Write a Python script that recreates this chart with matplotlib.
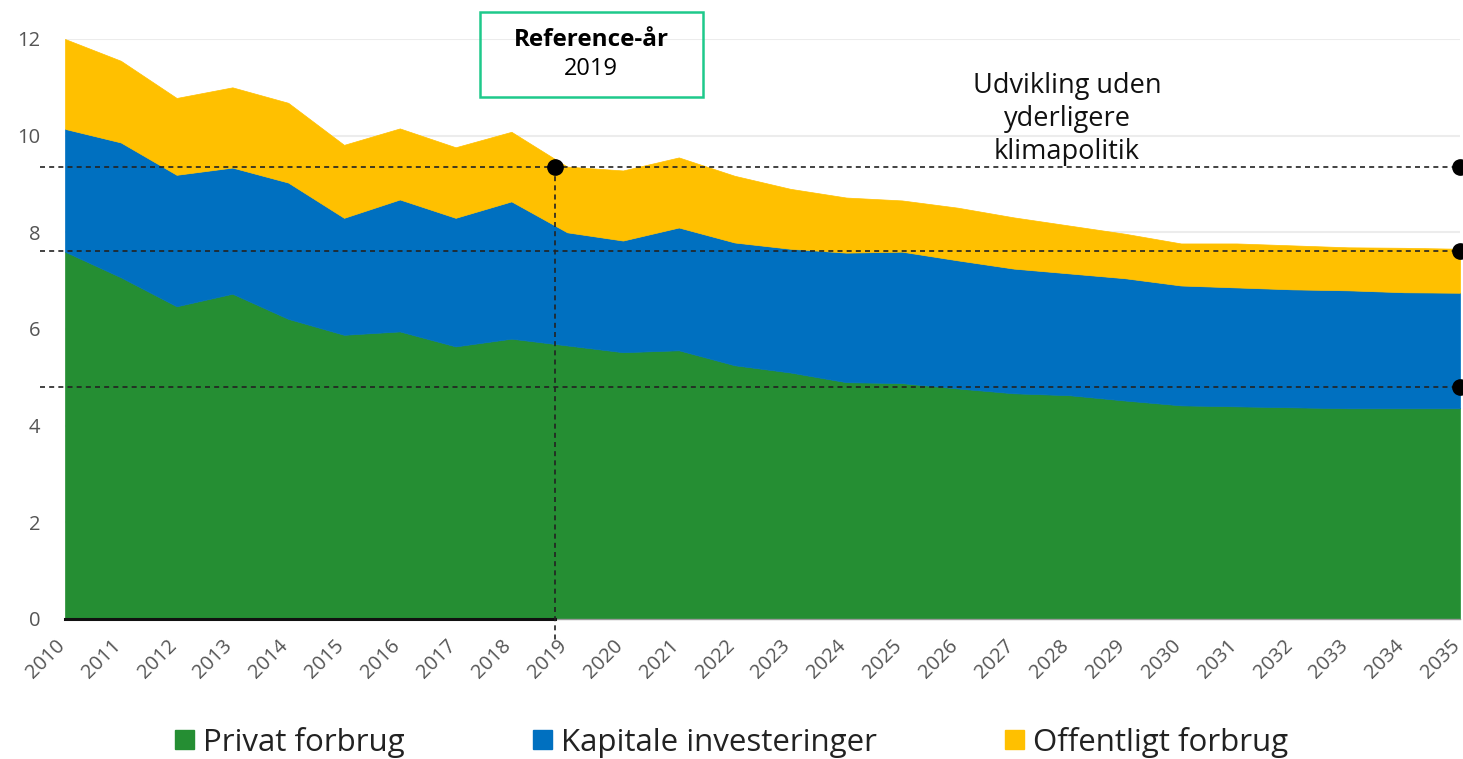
import matplotlib.pyplot as plt
from matplotlib.patches import Patch, Rectangle
from matplotlib.transforms import ScaledTranslation

plt.rcParams['font.family'] = ['Open Sans', 'DejaVu Sans']

# data
aar = list(range(2010, 2036))
privat_forbrug = [7.60, 7.07, 6.47, 6.73, 6.21, 5.88, 5.95, 5.64, 5.80, 5.66,
                  5.52, 5.56, 5.25, 5.10, 4.90, 4.88, 4.77, 4.67, 4.63, 4.52,
                  4.42, 4.40, 4.38, 4.36, 4.36, 4.36]
kapitale_inv = [2.54, 2.79, 2.72, 2.61, 2.82, 2.42, 2.73, 2.66, 2.84, 2.34,
                2.31, 2.54, 2.54, 2.56, 2.68, 2.72, 2.65, 2.58, 2.52, 2.53,
                2.48, 2.46, 2.44, 2.44, 2.40, 2.39]
offentligt_forbrug = [1.86, 1.69, 1.59, 1.66, 1.65, 1.51, 1.47, 1.46, 1.44, 1.36,
                      1.45, 1.45, 1.38, 1.24, 1.14, 1.06, 1.09, 1.06, 0.99, 0.92,
                      0.87, 0.91, 0.91, 0.89, 0.92, 0.91]
serie_navne = ['Privat forbrug', 'Kapitale investeringer', 'Offentligt forbrug']
farver = ['#258e33', '#0070c0', '#ffc000']

# referencelinjer
ref_x = 2018.78
niveauer = [9.36, 7.62, 4.81]

fig = plt.figure(figsize=(14.63, 7.59), dpi=100)
ax = fig.add_axes([65 / 1463, 1 - 619 / 759, 1395 / 1463, 580 / 759])

polys = ax.stackplot(aar, privat_forbrug, kapitale_inv, offentligt_forbrug,
                     colors=farver, zorder=2)
for p, c in zip(polys, farver):
    p.set_edgecolor(c)
    p.set_linewidth(0.5)

ax.set_xlim(2010, 2035)
ax.set_ylim(0, 12)
ax.set_yticks(range(0, 13, 2))
ax.set_xticks(aar)
ax.grid(axis='y', color='#ececec', lw=1.5, zorder=0)
ax.set_axisbelow(True)
for s in ['left', 'right', 'top']:
    ax.spines[s].set_visible(False)
ax.spines['bottom'].set_color('#9a9a9a')
ax.spines['bottom'].set_linewidth(1)
ax.tick_params(axis='both', length=0, colors='#555555', labelsize=14.5)
ax.tick_params(axis='y', pad=18)
ax.tick_params(axis='x', pad=17)
skub = ScaledTranslation(-3 / 100, 0, fig.dpi_scale_trans)
for lbl in ax.get_xticklabels():
    lbl.set_rotation(45)
    lbl.set_ha('right')
    lbl.set_va('center')
    lbl.set_rotation_mode('anchor')
    lbl.set_transform(lbl.get_transform() + skub)

# sort linje langs aksen frem til referenceåret
ax.plot([2010, ref_x], [0, 0], color='#111111', lw=2.2, zorder=4, clip_on=False)

# stiplede niveaulinjer og punkter
for n in niveauer:
    ax.plot([2009.55, 2035], [n, n], ls=(0, (3, 2.5)), color='#222222', lw=1.2,
            zorder=5, clip_on=False)
    ax.plot(2035, n, 'o', color='black', ms=11, zorder=6, clip_on=False)
ax.plot([ref_x, ref_x], [niveauer[0], -0.45], ls=(0, (3, 2.5)), color='#222222',
        lw=1.2, zorder=5, clip_on=False)
ax.plot(ref_x, niveauer[0], 'o', color='black', ms=11, zorder=6, clip_on=False)

# boks med referenceår
fig.patches.append(Rectangle((480 / 1463, 1 - 97 / 759), 223 / 1463, 85 / 759,
                             fill=False, edgecolor='#1ec98b', lw=1.8,
                             transform=fig.transFigure))
fig.text(591 / 1463, 1 - 40 / 759, 'Reference-år', ha='center', va='center',
         fontsize=17.5, fontweight='bold', color='black')
fig.text(591 / 1463, 1 - 69 / 759, '2019', ha='center', va='center',
         fontsize=17, color='black')

fig.text(1067 / 1463, 1 - 119 / 759, 'Udvikling uden\nyderligere\nklimapolitik',
         ha='center', va='center', fontsize=19.5, linespacing=1.22, color='#111111')

handles = [Patch(facecolor=c, edgecolor=c) for c in farver]
fig.legend(handles, serie_navne, loc='center', bbox_to_anchor=(0.5, 1 - 742 / 759),
           ncol=3, frameon=False, fontsize=22.5, handlelength=0.6, handleheight=0.6,
           handletextpad=0.3, columnspacing=4.1, labelcolor='#222222')

fig.savefig('out.png', dpi=100)
